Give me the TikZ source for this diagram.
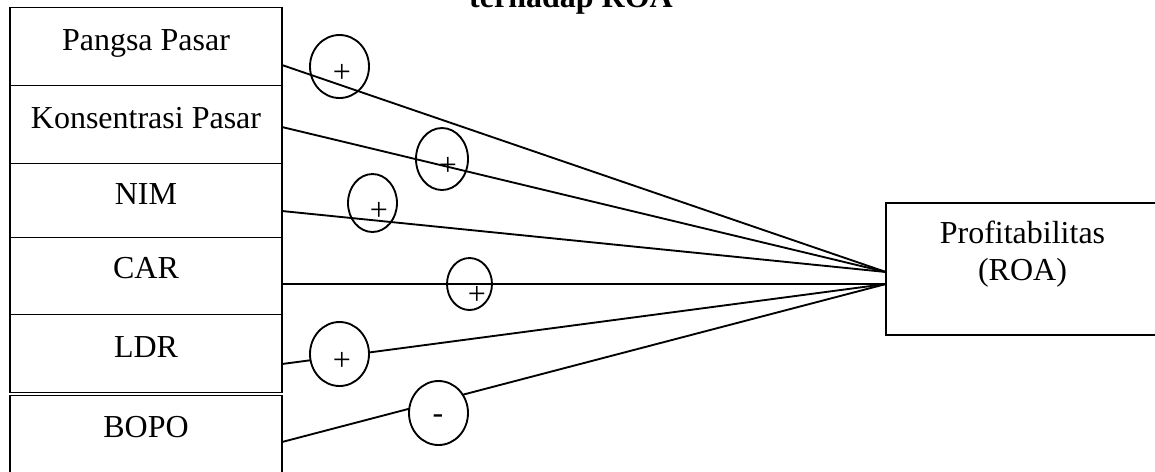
\documentclass[tikz,border=0pt]{standalone}
\usepackage{fontspec}
\setmainfont{Liberation Serif}
\usetikzlibrary{shapes.geometric}
\tikzset{
  box/.style={draw, line width=0.65pt, inner sep=0pt, minimum width=102pt},
  lbl/.style={anchor=base, inner sep=0pt, font=\fontsize{12}{14}\selectfont},
  conn/.style={line width=0.7pt},
  sign/.style={draw, ellipse, line width=0.7pt, inner sep=0pt},
  signw/.style={sign, fill=white},
  signtxt/.style={inner sep=0pt, font=\fontsize{12}{14}\selectfont}
}
\begin{document}
\begin{tikzpicture}[x=0.375pt, y=-0.375pt]
\useasboundingbox (0,0) rectangle (1155,471);
\clip (0,0) rectangle (1155,471);
% title
\node[lbl, font=\fontsize{12}{14}\selectfont\bfseries] (title) at (571,7) {terhadap ROA};
% left boxes
\node[box, minimum height=29.25pt] (b1) at (146,46.5) {};
\node[box, minimum height=29.25pt] (b2) at (146,124.5) {};
\node[box, minimum height=27.75pt] (b3) at (146,200.5) {};
\node[box, minimum height=28.875pt] (b4) at (146,276) {};
\node[box, minimum height=29.25pt] (b5) at (146,353.5) {};
\node[box, minimum height=35.44pt] (b6) at (146,442.75) {};
\node[lbl] (t1) at (146,50) {Pangsa Pasar};
\node[lbl] (t2) at (146,128) {Konsentrasi Pasar};
\node[lbl] (t3) at (146,204) {NIM};
\node[lbl] (t4) at (146,278) {CAR};
\node[lbl] (t5) at (146,357) {LDR};
\node[lbl] (t6) at (146,437) {BOPO};
% right box
\node[box, minimum width=108.375pt, minimum height=49.5pt] (roa) at (1030.5,269) {};
\node[lbl] (r1t) at (1022.5,243) {Profitabilitas};
\node[lbl] (r2t) at (1022.5,280) {(ROA)};
% connector end points
\coordinate (s1) at (282,65);
\coordinate (s2) at (282,127);
\coordinate (s3) at (282,211);
\coordinate (s4) at (282,284);
\coordinate (s5) at (282,364);
\coordinate (s6) at (282,442);
\coordinate (eU) at (886,272);
\coordinate (eL) at (886,284);
\draw[conn] (s1) -- (eU);
\draw[conn] (s2) -- (eU);
\draw[conn] (s3) -- (eU);
\draw[conn] (s4) -- (eL);
\draw[conn] (s5) -- (eL);
\draw[conn] (s6) -- (eL);
% sign ellipses
\node[sign, minimum width=22.125pt, minimum height=23.625pt] (e1) at (339.5,66.5) {};
\node[sign, minimum width=19.5pt, minimum height=23.25pt] (e2) at (442,159) {};
\node[sign, minimum width=18.375pt, minimum height=21.75pt] (e3) at (372.5,203) {};
\node[sign, minimum width=16.875pt, minimum height=19.5pt] (e4) at (469.5,284) {};
\node[signw, minimum width=22.125pt, minimum height=24pt] (e5) at (339.5,354) {};
\node[signw, minimum width=22.125pt, minimum height=24pt] (e6) at (438.5,413) {};
\node[signtxt] (m1) at (342,73) {+};
\node[signtxt] (m2) at (448,166) {+};
\node[signtxt] (m3) at (379,211) {+};
\node[signtxt] (m4) at (477,295) {+};
\node[signtxt] (m5) at (342,361) {+};
\node[signtxt] (m6) at (438,419) {-};
\end{tikzpicture}
\end{document}
